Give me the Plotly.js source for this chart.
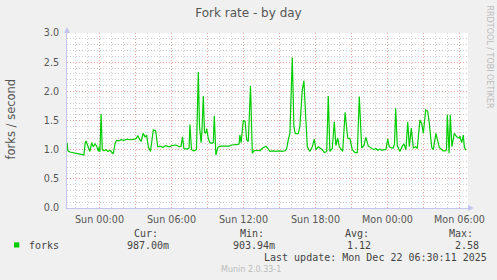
<!DOCTYPE html>
<html>
<head>
<meta charset="utf-8">
<script src="https://cdn.plot.ly/plotly-3.0.1.min.js"></script>
<style>html,body{margin:0;padding:0;background:#f0f0f0;}#chart{width:497px;height:280px;}</style>
</head>
<body>
<div id="chart"></div>
<script>
// Minutes relative to Sun 2025-12-21 00:00 (5-minute samples)
const minutes = [-162,-158,-148,-132,-118,-102,-88,-78,-72,-68,-59,-48,-39,-31,-22,-14,-6,-1,2,8,14,22,32,42,52,62,69,78,86,98,108,122,138,152,168,178,185,192,200,208,218,228,236,244,255,269,281,291,302,318,332,348,362,378,388,398,408,415,422,438,448,452,460,472,485,494,500,508,512,519,525,531,536,544,552,562,569,574,582,592,602,618,632,648,662,678,692,698,702,708,719,728,736,744,755,764,772,788,802,812,824,832,842,852,868,882,898,912,928,936,944,952,964,972,978,988,994,1002,1014,1022,1031,1039,1052,1064,1074,1082,1094,1102,1114,1124,1136,1144,1152,1164,1174,1182,1191,1199,1208,1216,1228,1241,1252,1264,1278,1289,1299,1311,1322,1332,1344,1361,1372,1382,1392,1402,1412,1422,1432,1441,1449,1461,1469,1475,1481,1489,1502,1514,1522,1532,1541,1549,1559,1569,1581,1589,1602,1611,1619,1631,1641,1649,1661,1669,1682,1699,1711,1718,1728,1735,1739,1748,1754,1762,1774,1786,1798,1802,1811,1819,1824,1831];
const forks = [1.12,0.98,0.96,0.95,0.94,0.93,0.91,0.91,1.10,1.15,1.07,0.97,1.12,1.05,1.10,1.06,0.97,1.05,0.96,1.61,1.00,0.98,1.00,0.97,0.99,0.96,0.93,1.11,1.16,1.15,1.17,1.16,1.18,1.17,1.17,1.18,1.20,1.24,1.18,1.14,1.28,1.22,1.24,1.05,0.97,1.34,1.32,1.05,1.06,1.04,1.07,1.05,1.07,1.08,1.07,1.05,1.06,1.22,1.02,1.01,1.03,1.43,1.00,0.98,1.00,2.33,1.40,1.12,1.30,1.92,1.30,1.28,1.36,1.19,1.12,1.11,1.12,1.58,0.91,1.04,1.06,1.06,1.07,1.06,1.08,1.08,1.09,1.10,1.25,1.12,1.50,1.49,1.17,1.14,2.09,0.94,0.98,0.99,0.98,1.02,1.05,1.06,1.02,0.97,0.98,0.97,0.98,0.97,0.98,1.02,1.17,1.28,2.58,1.40,1.28,1.27,1.28,1.40,2.03,2.18,1.57,1.05,0.97,1.05,1.18,1.00,1.05,1.03,1.00,0.95,0.97,1.92,0.97,1.02,1.48,1.07,1.20,1.05,1.00,0.97,1.64,1.20,1.19,1.00,0.95,0.95,1.91,1.03,1.07,1.21,1.06,1.03,1.00,1.02,0.99,1.01,0.99,1.00,1.00,1.18,1.05,1.03,1.03,1.10,1.71,1.07,0.97,1.06,1.10,1.00,1.48,1.05,1.37,1.03,1.05,1.02,1.51,1.45,1.28,1.68,1.66,1.45,1.04,1.00,1.28,1.04,1.00,0.98,0.98,1.00,1.60,0.94,1.60,1.05,1.28,1.22,1.20,1.23,1.12,1.25,1.05,0.99];

const xTickVals = ["2025-12-21 00:00","2025-12-21 03:00","2025-12-21 06:00","2025-12-21 09:00","2025-12-21 12:00","2025-12-21 15:00","2025-12-21 18:00","2025-12-21 21:00","2025-12-22 00:00","2025-12-22 03:00","2025-12-22 06:00"];
const xTickText = ["Sun 00:00","","Sun 06:00","","Sun 12:00","","Sun 18:00","","Mon 00:00","","Mon 06:00"];
const yTickVals = [0,0.5,1.0,1.5,2.0,2.5,3.0];
const yTickText = ["0.0","0.5","1.0","1.5","2.0","2.5","3.0"];

const seriesName = "forks";
const statLabels = ["Cur:","Min:","Avg:","Max:"];
const statValues = ["987.00m","903.94m","1.12","2.58"];
const lastUpdate = "Last update: Mon Dec 22 06:30:11 2025";

function toDate(m){
  const d = new Date(Date.UTC(2025,11,21) + m*60000);
  const p = n => String(n).padStart(2,'0');
  return d.getUTCFullYear()+'-'+p(d.getUTCMonth()+1)+'-'+p(d.getUTCDate())+' '+p(d.getUTCHours())+':'+p(d.getUTCMinutes())+':'+p(d.getUTCSeconds());
}
const times = minutes.map(toDate);

// plot area in pixels
const L=67, R=468, T=33, B=208, W=497, H=280;
const px = x => (x-L)/(R-L);
const py = y => (B-y)/(B-T);

const mono = "DejaVu Sans Mono";
const sans = "DejaVu Sans";
const txt = "#444";

const annotations = [
  {text:"forks / second", x:px(10), y:py(119.5), textangle:-90, font:{family:sans,size:11.5,color:"#555"}},
  {text:"RRDTOOL / TOBI OETIKER", x:px(489), y:py(56.5), textangle:90, font:{family:sans,size:8,color:"#bbb"}},
  {text:seriesName, x:px(26.7), y:py(245.3), xanchor:'left', font:{family:mono,size:10,color:txt}},
  {text:lastUpdate, x:px(261.7), y:py(257.3), xanchor:'left', font:{family:mono,size:10,color:txt}},
  {text:"Munin 2.0.33-1", x:px(219), y:py(269.3), xanchor:'left', font:{family:sans,size:8,color:"#bbb"}}
];
const labelLeft = [131.7,237.7,342.7,447.3];
const valueLeft = [125,231,345,453.3];
statLabels.forEach((s,i)=>{
  annotations.push({text:s, x:px(labelLeft[i]), y:py(233.3), xanchor:'left', font:{family:mono,size:10,color:txt}});
  annotations.push({text:statValues[i], x:px(valueLeft[i]), y:py(245.3), xanchor:'left', font:{family:mono,size:10,color:txt}});
});
annotations.forEach(a=>{a.xref='paper';a.yref='paper';a.showarrow=false;if(!a.yanchor)a.yanchor='middle';if(!a.xanchor)a.xanchor='center';});

const axisBlue = "#c4c4ee";
const shapes = [
  {type:'rect', xref:'paper', yref:'paper', x0:px(14), x1:px(19.3), y0:py(247.5), y1:py(242.3), fillcolor:'#00cc00', line:{width:0}},
  {type:'path', xref:'paper', yref:'paper', path:`M ${px(64)} ${py(33)} L ${px(70)} ${py(33)} L ${px(67)} ${py(27)} Z`, fillcolor:axisBlue, line:{width:0}},
  {type:'path', xref:'paper', yref:'paper', path:`M ${px(468)} ${py(205)} L ${px(468)} ${py(211)} L ${px(474)} ${py(208)} Z`, fillcolor:axisBlue, line:{width:0}}
];

const trace = {x:times, y:forks, type:'scatter', mode:'lines', line:{color:'#00cc00', width:1.2}, hoverinfo:'skip'};

const layout = {
  width:W, height:H,
  margin:{l:L, r:W-R, t:T, b:H-B, pad:0},
  paper_bgcolor:'#f0f0f0', plot_bgcolor:'#ffffff',
  showlegend:false,
  title:{text:"Fork rate - by day", font:{family:sans,size:12,color:'#555'}, x:0.5, xref:'container', xanchor:'center', y:1-13/H, yref:'container', yanchor:'middle'},
  xaxis:{type:'date', range:[toDate(-162.5), toDate(1842.5)], tickmode:'array', tickvals:xTickVals, ticktext:xTickText,
    showgrid:true, gridcolor:'#e8a0a0', griddash:'1px,2px', gridwidth:1,
    minor:{dtick:3600000, tick0:"2025-12-21 00:00", showgrid:true, gridcolor:'#cfcfcf', griddash:'1px,2px', gridwidth:1, ticks:''},
    showline:true, linecolor:axisBlue, linewidth:1, zeroline:false, ticks:'', ticklabelstandoff:2,
    tickfont:{family:sans,size:9.6,color:'#555'}, fixedrange:true},
  yaxis:{range:[0,3], tickmode:'array', tickvals:yTickVals, ticktext:yTickText,
    showgrid:true, gridcolor:'#e8a0a0', griddash:'1px,2px', gridwidth:1,
    minor:{dtick:0.1, tick0:0, showgrid:true, gridcolor:'#cfcfcf', griddash:'1px,2px', gridwidth:1, ticks:''},
    showline:true, linecolor:axisBlue, linewidth:1, zeroline:false, ticks:'', ticklabelstandoff:5,
    tickfont:{family:sans,size:9.6,color:'#555'}, fixedrange:true},
  annotations:annotations,
  shapes:shapes
};

Plotly.newPlot('chart',[trace],layout,{displayModeBar:false,staticPlot:true});
</script>
</body>
</html>
